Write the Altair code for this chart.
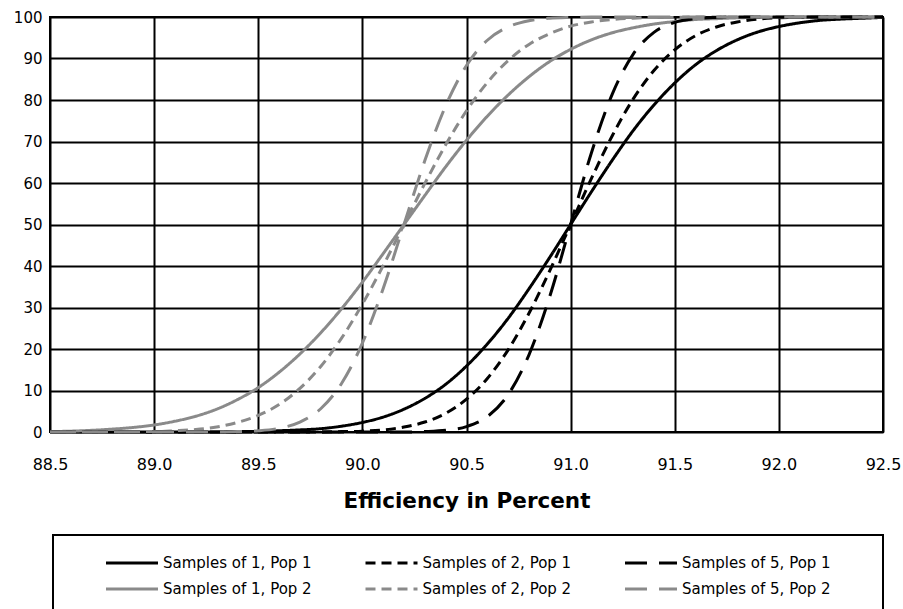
import altair as alt
import pandas as pd

# Efficiency values (percent) at which each cumulative curve is sampled
x_vals = [88.5, 88.6, 88.7, 88.8, 88.9, 89.0, 89.1, 89.2, 89.3, 89.4,
          89.5, 89.6, 89.7, 89.8, 89.9, 90.0, 90.1, 90.2, 90.3, 90.4,
          90.5, 90.6, 90.7, 90.8, 90.9, 91.0, 91.1, 91.2, 91.3, 91.4,
          91.5, 91.6, 91.7, 91.8, 91.9, 92.0, 92.1, 92.2, 92.3, 92.4, 92.5]

# Cumulative percent below each efficiency value
s1_pop1 = [0, 0, 0, 0, 0, 0, 0, 0, 0, 0.1,
           0.1, 0.3, 0.5, 0.8, 1.4, 2.3, 3.6, 5.5, 8.1, 11.5,
           15.9, 21.2, 27.4, 34.5, 42.1, 50.0, 57.9, 65.5, 72.6, 78.8,
           84.1, 88.5, 91.9, 94.5, 96.4, 97.7, 98.6, 99.2, 99.5, 99.7, 99.9]
s2_pop1 = [0, 0, 0, 0, 0, 0, 0, 0, 0, 0,
           0, 0, 0, 0, 0.1, 0.2, 0.5, 1.2, 2.4, 4.5,
           7.9, 12.9, 19.8, 28.6, 38.9, 50.0, 61.1, 71.4, 80.2, 87.1,
           92.1, 95.5, 97.6, 98.8, 99.5, 99.8, 99.9, 100, 100, 100, 100]
s5_pop1 = [0, 0, 0, 0, 0, 0, 0, 0, 0, 0,
           0, 0, 0, 0, 0, 0, 0, 0, 0.1, 0.4,
           1.3, 3.7, 9.0, 18.6, 32.7, 50.0, 67.3, 81.4, 91.0, 96.3,
           98.7, 99.6, 99.9, 100, 100, 100, 100, 100, 100, 100, 100]
s1_pop2 = [0.1, 0.2, 0.4, 0.7, 1.1, 1.7, 2.6, 3.8, 5.5, 7.8,
           10.7, 14.4, 18.8, 23.9, 29.7, 36.1, 43.0, 50.0, 57.0, 63.9,
           70.3, 76.1, 81.2, 85.6, 89.3, 92.2, 94.5, 96.2, 97.4, 98.3,
           98.9, 99.4, 99.6, 99.8, 99.9, 99.9, 100, 100, 100, 100, 100]
s2_pop2 = [0, 0, 0, 0, 0.1, 0.1, 0.3, 0.6, 1.2, 2.3,
           4.0, 6.6, 10.5, 15.8, 22.6, 30.8, 40.1, 50.0, 59.9, 69.2,
           77.4, 84.2, 89.5, 93.4, 96.0, 97.8, 98.8, 99.4, 99.7, 99.9,
           99.9, 100, 100, 100, 100, 100, 100, 100, 100, 100, 100]
s5_pop2 = [0, 0, 0, 0, 0, 0, 0, 0, 0, 0.1,
           0.3, 0.9, 2.4, 5.6, 11.7, 21.4, 34.6, 50.0, 65.4, 78.6,
           88.3, 94.4, 97.6, 99.1, 99.7, 99.9, 100, 100, 100, 100,
           100, 100, 100, 100, 100, 100, 100, 100, 100, 100, 100]

# Legend entries fill column by column: (1,Pop1) (1,Pop2) | (2,Pop1) (2,Pop2) | (5,Pop1) (5,Pop2)
series_names = ["Samples of 1, Pop 1", "Samples of 1, Pop 2",
                "Samples of 2, Pop 1", "Samples of 2, Pop 2",
                "Samples of 5, Pop 1", "Samples of 5, Pop 2"]
series_values = [s1_pop1, s1_pop2, s2_pop1, s2_pop2, s5_pop1, s5_pop2]

x_ticks = [88.5, 89.0, 89.5, 90.0, 90.5, 91.0, 91.5, 92.0, 92.5]
y_ticks = [0, 10, 20, 30, 40, 50, 60, 70, 80, 90, 100]

rows = []
for name, vals in zip(series_names, series_values):
    for xv, yv in zip(x_vals, vals):
        rows.append({"efficiency": xv, "cumulative": yv, "series": name})
df = pd.DataFrame(rows)

BLACK = "#000000"
GREY = "#8a8a8a"
FONT = "DejaVu Sans"

SOLID, SHORT, LONG = [1, 0], [10, 6], [22, 12]
color_scale = alt.Scale(domain=series_names, range=[BLACK, GREY, BLACK, GREY, BLACK, GREY])
dash_scale = alt.Scale(domain=series_names, range=[SOLID, SOLID, SHORT, SHORT, LONG, LONG])

legend_spec = dict(
    title=None, orient="none", legendX=54.5, legendY=533, columns=3,
    symbolType="stroke", symbolSize=2704, symbolStrokeWidth=3,
    labelFont=FONT, labelFontSize=15, labelColor=BLACK, labelOffset=3.5,
    columnPadding=51.5, rowPadding=0, clipHeight=26, padding=0,
)

lines = alt.Chart(df).mark_line(strokeWidth=3, interpolate="monotone").encode(
    x=alt.X("efficiency:Q",
            scale=alt.Scale(domain=[88.5, 92.5], nice=False, zero=False),
            axis=alt.Axis(values=x_ticks, format=".1f", title="Efficiency in Percent",
                          labelFontSize=16, labelPadding=24, labelFlush=False,
                          titleFontSize=21.5, titleFontWeight="bold", titlePadding=18,
                          grid=True, gridColor=BLACK, gridWidth=2, gridOpacity=1,
                          domain=False, ticks=False,
                          labelFont=FONT, labelColor=BLACK,
                          titleFont=FONT, titleColor=BLACK)),
    y=alt.Y("cumulative:Q",
            scale=alt.Scale(domain=[0, 100], nice=False),
            axis=alt.Axis(values=y_ticks, title=None, labelFontSize=15, labelPadding=8,
                          grid=True, gridColor=BLACK, gridWidth=2, gridOpacity=1,
                          domain=False, ticks=False,
                          labelFont=FONT, labelColor=BLACK)),
    color=alt.Color("series:N", scale=color_scale, sort=series_names,
                    legend=alt.Legend(**legend_spec)),
    strokeDash=alt.StrokeDash("series:N", scale=dash_scale, sort=series_names,
                              legend=alt.Legend(**legend_spec)),
)

# Frame around the legend
box = alt.Chart(pd.DataFrame({"k": [0]})).mark_rect(
    fill="white", fillOpacity=0, stroke=BLACK, strokeWidth=2
).encode(x=alt.value(3), x2=alt.value(833), y=alt.value(518), y2=alt.value(640))

chart = alt.layer(lines, box).properties(
    width=833, height=415,
    background="white",
    autosize=alt.AutoSizeParams(type="none"),
    padding={"left": 50, "top": 17, "right": 20, "bottom": 177},
).configure_view(
    stroke=BLACK, strokeWidth=2
)

chart.save("out.html", embed_options={"renderer": "svg", "actions": False})
